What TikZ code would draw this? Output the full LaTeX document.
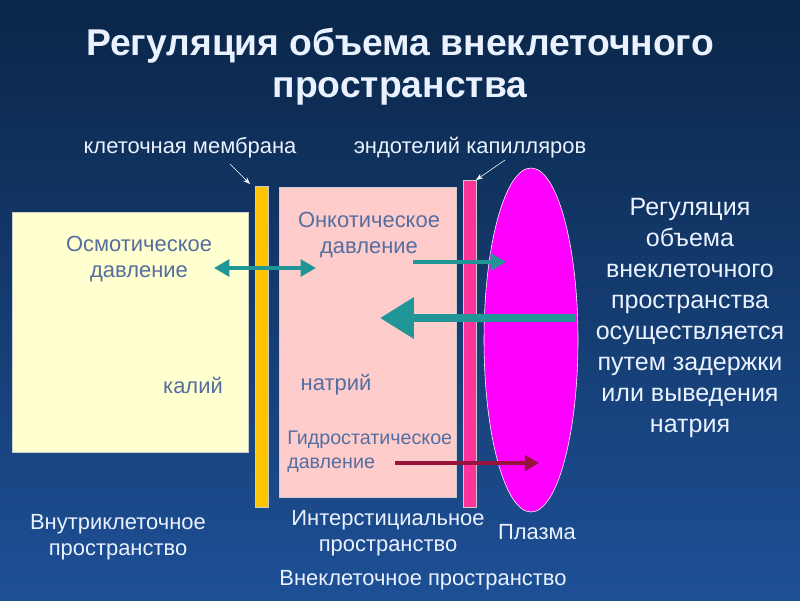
\documentclass[tikz,border=0pt]{standalone}
\usepackage{fontspec}
\setmainfont{Liberation Sans}
\usetikzlibrary{arrows.meta}
\definecolor{bgtop}{RGB}{10,38,72}
\definecolor{bgbot}{RGB}{30,80,150}
\definecolor{cellfill}{RGB}{255,255,208}
\definecolor{memgold}{RGB}{255,196,0}
\definecolor{interfill}{RGB}{255,204,204}
\definecolor{endopink}{RGB}{255,51,153}
\definecolor{plasmafill}{RGB}{255,0,255}
\definecolor{labblue}{RGB}{85,110,160}
\definecolor{teal}{RGB}{32,150,150}
\definecolor{darkred}{RGB}{150,20,60}
\definecolor{sidetext}{RGB}{235,242,255}

\begin{document}
\begin{tikzpicture}
        [x=0.025cm,y=-0.025cm,
         every node/.style={inner sep=0pt, font=\fontsize{15.6}{18.5}\selectfont},
         inner/.style={text=labblue},
         outer/.style={text=sidetext, align=center},
         flow/.style={teal, line width=2.6pt, -{Triangle[length=11pt,width=12pt]}}]
         \useasboundingbox (0,0) rectangle (800,600);
         \shade[top color=bgtop, bottom color=bgbot] (0,0) rectangle (800,600);

         % areas
         \draw[gray!40, fill=cellfill] (12,212) rectangle (248,452);
         \draw[gray!40, fill=memgold] (255,186) rectangle (268,507);
         \draw[gray!40, fill=interfill] (279,187) rectangle (456,497);
         \draw[gray!40, fill=endopink] (463,180) rectangle (476,507);
         \draw[white, fill=plasmafill] (531,340) ellipse (47 and 172);

         % title
         \node[outer, font=\fontsize{26.5}{30}\bfseries\selectfont] (title) at (400,67)
            {Регуляция объема внеклеточного\\пространства};

         % membrane labels
         \node[outer] (mlab) at (190,148) {клеточная мембрана};
         \node[outer] (elab) at (470,148) {эндотелий капилляров};
         \coordinate (mtip) at (250,184);
         \coordinate (etip) at (476,180);
         \draw[white, thin, -{Stealth[length=5pt]}] (230,164) -- (mtip);
         \draw[white, thin, -{Stealth[length=5pt]}] (505,160) -- (etip);

         % texts inside
         \node[inner, align=center] (osm) at (139,259) {Осмотическое\\давление};
         \node[inner, align=center] (onk) at (369,235) {Онкотическое\\давление};
         \node[inner] (kal) at (193,385) {калий};
         \node[inner] (nat) at (336,385) {натрий};
         \node[inner, align=left, anchor=west, font=\fontsize{14}{17}\selectfont] (gid) at (287,452)
            {Гидростатическое\\давление};

         % flows
         \coordinate (dl) at (214,268);
         \coordinate (dr) at (316,268);
         \coordinate (os) at (413,262);
         \coordinate (oe) at (506,262);
         \coordinate (bs) at (576,318);
         \coordinate (be) at (380,318);
         \coordinate (hs) at (395,463);
         \coordinate (he) at (539,463);
         \draw[flow, {Triangle[length=11pt,width=12pt]}-{Triangle[length=11pt,width=12pt]}] (dl) -- (dr);
         \draw[flow] (os) -- (oe);
         \draw[flow, line width=5.5pt, -{Triangle[length=24pt,width=28pt]}] (bs) -- (be);
         \draw[darkred, line width=2.2pt, -{Triangle[length=10pt,width=11pt]}] (hs) -- (he);

         % side text
         \node[outer, font=\fontsize{17.8}{22}\selectfont] (side) at (690,318)
            {Регуляция\\объема\\внеклеточного\\пространства\\осуществляется\\путем задержки\\или выведения\\натрия};

         % bottom labels
         \node[outer] (intra) at (118,537) {Внутриклеточное\\пространство};
         \node[outer] (inter) at (388,533) {Интерстициальное\\пространство};
         \node[outer] (plas) at (537,532) {Плазма};
         \node[outer] (extra) at (423,580) {Внеклеточное пространство};
\end{tikzpicture}
\end{document}
